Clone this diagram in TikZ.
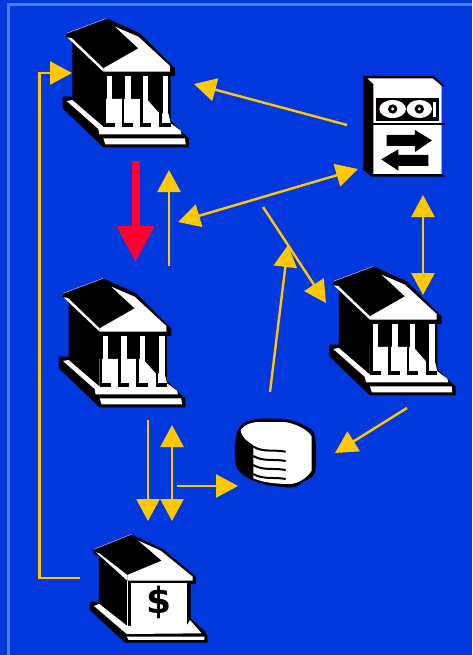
\documentclass[tikz,border=0pt]{standalone}
\usepackage{fontspec}
\usepackage{tikz}
\usetikzlibrary{arrows.meta}
\newfontfamily\dollarfont{DejaVu Sans}
\definecolor{slidebg}{HTML}{0038DD}
\definecolor{slideedge}{HTML}{4A7CF0}
\definecolor{flowline}{HTML}{FFC800}
\definecolor{flowred}{HTML}{FF0033}
\tikzset{
flow/.style={draw=flowline,line width=2.4pt,-{Triangle[length=22pt,width=23pt]}},
flowboth/.style={draw=flowline,line width=2.4pt,{Triangle[length=22pt,width=23pt]}-{Triangle[length=22pt,width=23pt]}},
flowmain/.style={draw=flowred,line width=8pt,-{Triangle[length=36pt,width=36pt]}},
ink/.style={fill=black},
paper/.style={fill=white},
}
% zoomed coordinates, three units to a pixel
\newcommand{\bankicon}[2]{
\begin{scope}[shift={(#1,#2)},x=0.3333pt,y=-0.3333pt]
\fill[ink] (200,55) -- (300,100) -- (405,205) -- (405,228) -- (392,228) -- (392,362) -- (435,405) -- (447,415) -- (447,442) -- (190,442) -- (68,325) -- (68,290) -- (97,290) -- (97,122) -- (78,110) -- (80,100) -- cycle;
\draw[white!70!slidebg,line width=0.5pt] (80,100) -- (200,55);
% pediment and eave
\fill[paper] (225,80) -- (295,110) -- (390,198) -- (390,215) -- (190,215) -- (190,205) -- (295,145) -- cycle;
\fill[paper] (82,112) -- (95,114) -- (190,205) -- (190,215) -- cycle;
% floor and steps
\fill[paper] (80,303) -- (97,300) -- (190,380) -- (190,297) -- (320,297) -- (358,340) -- (385,340) -- (392,370) -- (422,392) -- (425,403) -- (178,403) -- (175,387) -- cycle;
\fill[paper] (190,415) -- (435,415) -- (437,433) -- (196,433) -- cycle;
% columns
\foreach \x/\w in {200/15,255/18,310/15,368/17} {
\fill[paper] (\x,228) rectangle (\x+\w,345);
}
\foreach \x in {190,245,300,358} {
\fill[ink] (\x,228) rectangle (\x+8,380);
\fill[ink] (\x,368) rectangle (\x+34,380);
}
\end{scope}
}
\begin{document}
\begin{tikzpicture}[x=1pt,y=-1pt]
\useasboundingbox (0,0) rectangle (472,655);
\fill[slidebg] (0,0) rectangle (472,655);
\draw[slideedge,line width=3pt] (472,4.5) -- (8.5,4.5) -- (8.5,655);

\bankicon{40}{0}
\bankicon{36.3}{260}
\bankicon{306.6}{248}

% machine
\begin{scope}[shift={(340,60)},x=0.3333pt,y=-0.3333pt]
\fill[ink] (70,48) -- (280,48) -- (315,78) -- (305,78) -- (305,342) -- (315,350) -- (95,350) -- (70,330) -- cycle;
\fill[paper] (82,55) -- (278,55) -- (305,78) -- (305,342) -- (100,342) -- (100,72) -- cycle;
\fill[ink] (108,115) rectangle (298,182);
\fill[ink] (100,188) rectangle (315,195);
\fill[paper] (158,147) ellipse[x radius=40,y radius=27];
\fill[paper] (238,147) ellipse[x radius=38,y radius=27];
\fill[paper] (278,125) rectangle (288,170);
\fill[ink] (158,147) circle[radius=14];
\fill[ink] (238,147) circle[radius=14];
\fill[paper] (158,147) circle[radius=5];
\fill[paper] (238,147) circle[radius=5];
\fill[ink] (140,225) -- (225,225) -- (225,210) -- (276,241) -- (225,276) -- (225,258) -- (140,258) -- cycle;
\fill[ink] (265,285) -- (175,285) -- (175,268) -- (124,298) -- (175,332) -- (175,318) -- (265,318) -- cycle;
\end{scope}

% disk
\begin{scope}[shift={(220,400)},x=0.3333pt,y=-0.3333pt]
\fill[ink] plot[smooth cycle,tension=0.6] coordinates {(52,95) (95,60) (195,58) (255,78) (284,108) (285,215) (250,245) (215,262) (130,252) (70,225) (46,185)};
\fill[paper] (62,90) .. controls (75,72) and (95,66) .. (120,66) -- (195,66) .. controls (230,72) and (265,90) .. (275,110) -- (275,212) .. controls (260,235) and (235,250) .. (212,252) .. controls (170,252) and (130,248) .. (100,235) -- (100,135) .. controls (85,125) and (65,115) .. (62,90) -- cycle;
\foreach \y in {140,168,195,222} {
\draw[line width=2pt] (100,\y) .. controls (130,\y+18) and (160,\y+8) .. (197,\y+15);
}
\end{scope}

% dollar bank
\begin{scope}[shift={(70,520)},x=0.3333pt,y=-0.3333pt]
\fill[ink] (183,43) -- (280,88) -- (378,170) -- (378,192) -- (362,192) -- (362,295) -- (405,335) -- (413,350) -- (413,368) -- (165,368) -- (60,270) -- (60,245) -- (87,245) -- (87,110) -- (70,100) -- (70,88) -- cycle;
\draw[white!70!slidebg,line width=0.5pt] (72,88) -- (183,43);
\fill[paper] (205,62) -- (272,92) -- (368,170) -- (368,182) -- (172,182) -- (172,165) -- (275,122) -- cycle;
\fill[paper] (78,97) -- (88,100) -- (172,165) -- (172,182) -- cycle;
\fill[paper] (183,190) rectangle (350,320);
\fill[paper] (170,182) rectangle (175,320);
\fill[paper] (72,258) -- (88,252) -- (172,318) -- (350,318) -- (360,300) -- (395,340) -- (170,342) -- cycle;
\fill[paper] (170,350) -- (403,350) -- (403,360) -- (176,360) -- cycle;
\node[inner sep=0pt,font=\dollarfont\bfseries\fontsize{36pt}{36pt}\selectfont] (dollar) at (266,248) {\$};
\end{scope}

% ends of the flows
\coordinate (machinewest) at (347,125);
\coordinate (topeast) at (194,84);
\coordinate (midnorth) at (178,222);
\coordinate (machinesouth) at (358,169);
\coordinate (machinedown) at (423,195);
\coordinate (rightnorth) at (423,295);
\coordinate (crossstart) at (263,207);
\coordinate (rightwest) at (326,303);
\coordinate (diskup) at (270,392);
\coordinate (crossend) at (288,245);
\coordinate (rightsouth) at (407,408);
\coordinate (diskeast) at (335,453);
\coordinate (upstart) at (169,266);
\coordinate (upend) at (169,170);
\coordinate (redstart) at (135.5,161);
\coordinate (redend) at (135.5,262);
\coordinate (downstart) at (148,420);
\coordinate (downend) at (148,521);
\coordinate (bothtop) at (172,425);
\coordinate (bothbottom) at (172,521);
\coordinate (diskstart) at (177,486);
\coordinate (diskwest) at (238,486);
\coordinate (dollarwest) at (80,578);
\coordinate (loopbottom) at (39.5,578);
\coordinate (looptop) at (39.5,73);
\coordinate (topwest) at (72,73);

\draw[flow] (machinewest) -- (topeast);
\draw[flowboth] (midnorth) -- (machinesouth);
\draw[flowboth] (machinedown) -- (rightnorth);
\draw[flow] (crossstart) -- (rightwest);
\draw[flow] (diskup) -- (crossend);
\draw[flow] (rightsouth) -- (diskeast);
\draw[flow] (upstart) -- (upend);
\draw[flowmain] (redstart) -- (redend);
\draw[flow] (downstart) -- (downend);
\draw[flowboth] (bothtop) -- (bothbottom);
\draw[flow] (diskstart) -- (diskwest);
\draw[flow] (dollarwest) -- (loopbottom) -- (looptop) -- (topwest);
\end{tikzpicture}
\end{document}
